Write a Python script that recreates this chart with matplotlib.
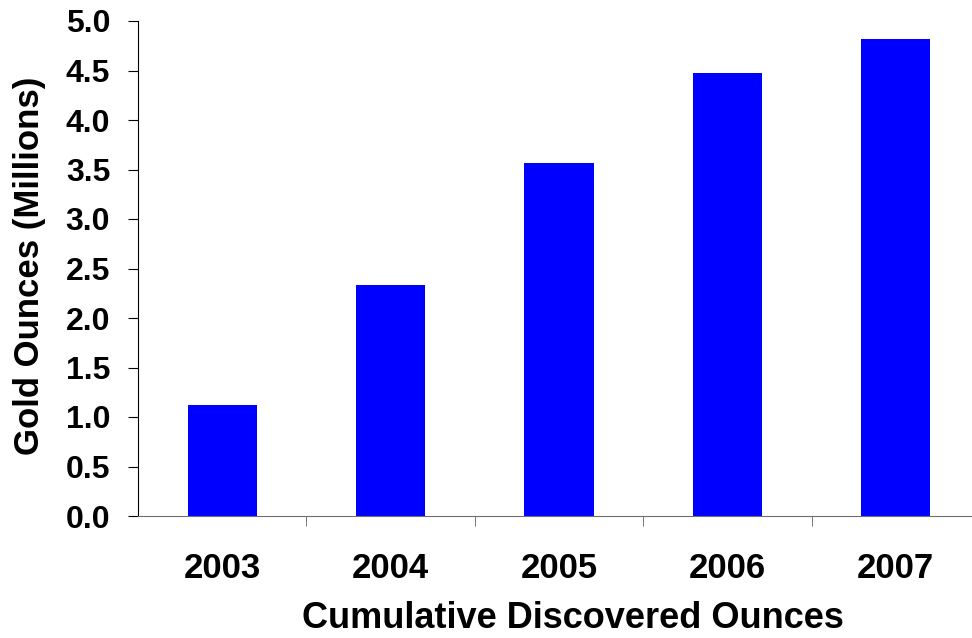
import numpy as np
import matplotlib
matplotlib.use('Agg')
import matplotlib.pyplot as plt

years = ['2003', '2004', '2005', '2006', '2007']
ounces = [1.12, 2.33, 3.57, 4.47, 4.82]  # млн унций

plt.rcParams['font.family'] = ['Liberation Sans', 'DejaVu Sans']
plt.rcParams['font.weight'] = 'bold'

W, H = 972, 638
fig = plt.figure(figsize=(W / 100, H / 100), dpi=100)
ax = fig.add_axes([138 / W, 122 / H, 842 / W, 495 / H])

x = np.arange(len(years))
ax.bar(x, ounces, width=0.41, color='#0000FF')

ax.set_xlim(-0.5, len(years) - 0.5)
ax.set_ylim(0, 5.0)
yt = np.arange(0, 5.01, 0.5)
ax.set_yticks(yt)
ax.set_yticklabels(['%.1f' % v for v in yt], fontsize=23, fontweight='bold')
ax.set_xticks(x)
ax.set_xticklabels(years, fontsize=25, fontweight='bold')
ax.set_xticks(np.arange(0.5, len(years) - 0.5, 1), minor=True)
ax.tick_params(axis='x', which='major', length=0, pad=26)
ax.tick_params(axis='x', which='minor', length=7, direction='out', color='#606060')
ax.tick_params(axis='y', length=7, direction='out', pad=13)

ax.spines['top'].set_visible(False)
ax.spines['right'].set_visible(False)
ax.spines['bottom'].set_color('#707070')
ax.spines['left'].set_color('black')

# подписи осей ставим вручную
fig.text(30 / W, 1 - 266 / H, 'Gold Ounces (Millions)', rotation=90,
         ha='center', va='center', fontsize=25, fontweight='bold')
fig.text(573 / W, 1 - 628 / H, 'Cumulative Discovered Ounces',
         ha='center', va='baseline', fontsize=26, fontweight='bold')

fig.savefig('out.png', dpi=100)
